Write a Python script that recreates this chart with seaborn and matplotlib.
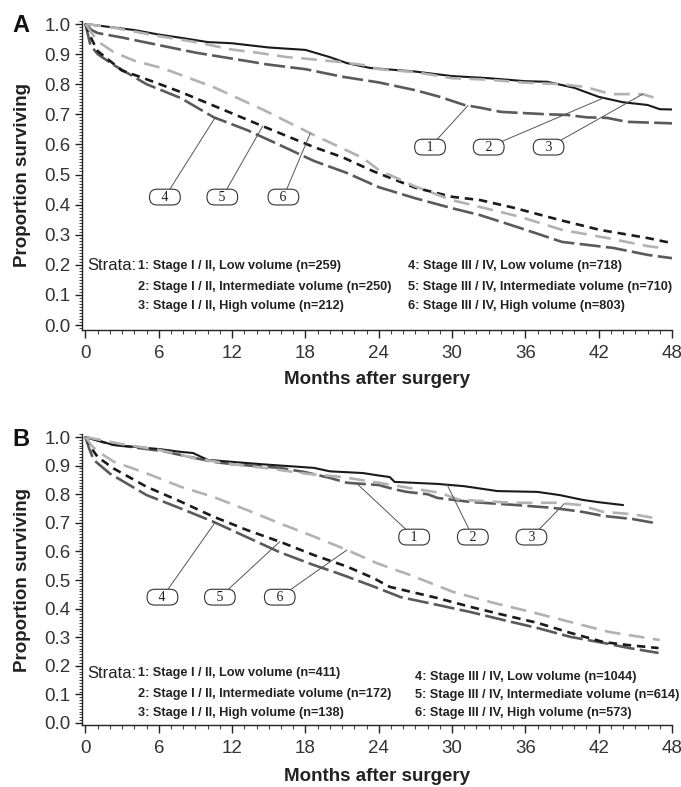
import numpy as np
import pandas as pd
import matplotlib
matplotlib.use("Agg")
import matplotlib.pyplot as plt
import seaborn as sns
from matplotlib.ticker import MultipleLocator, FormatStrFormatter
from matplotlib import font_manager as fm

# ---------------- data ----------------
# Panel A
a_m1 = [0, 0.5, 1, 3, 6, 9, 12, 15, 18, 21, 24, 27, 29, 31, 32.3, 34, 37.8, 39.4, 41, 42.7, 44.3, 48]
a_s1 = [1.0, 0.98, 0.97, 0.955, 0.93, 0.905, 0.885, 0.865, 0.85, 0.825, 0.806, 0.78, 0.758, 0.731, 0.722, 0.708, 0.700, 0.698, 0.69, 0.688, 0.675, 0.670]
a_m2 = [0, 2, 4, 6, 8, 10, 12, 15, 18, 20, 21.4, 23.3, 27, 30, 33, 36, 37.8, 40, 42, 44, 46, 47, 48]
a_s2 = [1.0, 0.99, 0.98, 0.965, 0.953, 0.94, 0.936, 0.922, 0.914, 0.89, 0.87, 0.854, 0.842, 0.827, 0.82, 0.81, 0.808, 0.788, 0.758, 0.74, 0.731, 0.717, 0.716]
a_m3 = [0, 2, 4, 6, 9, 12, 14, 16.5, 18, 20.8, 22.7, 24, 27, 30, 33, 36, 39, 41, 43, 45.6, 47]
a_s3 = [1.0, 0.99, 0.975, 0.96, 0.94, 0.915, 0.905, 0.89, 0.885, 0.874, 0.864, 0.85, 0.84, 0.82, 0.815, 0.805, 0.80, 0.79, 0.767, 0.767, 0.75]
a_m4 = [0, 0.4, 1, 2.3, 5, 7.8, 10.5, 13.2, 15.9, 18.7, 21.4, 24, 27, 30, 32.3, 35.6, 39, 43.2, 46, 48]
a_s4 = [1.0, 0.93, 0.9, 0.864, 0.8, 0.754, 0.69, 0.648, 0.598, 0.545, 0.505, 0.458, 0.421, 0.388, 0.365, 0.322, 0.276, 0.256, 0.233, 0.222]
a_m5 = [0, 0.5, 1, 3, 4.5, 7.8, 11, 14.3, 18.7, 21, 23.6, 27, 30, 32.3, 35, 38.8, 42.1, 46, 48]
a_s5 = [1.0, 0.95, 0.91, 0.845, 0.824, 0.774, 0.72, 0.664, 0.591, 0.558, 0.51, 0.456, 0.426, 0.415, 0.39, 0.349, 0.316, 0.289, 0.272]
a_m6 = [0, 0.5, 1.2, 2.3, 4, 6.4, 10.5, 14.6, 18.7, 22.7, 24, 27, 30, 32.3, 35.6, 39, 42.7, 46, 47]
a_s6 = [1.0, 0.97, 0.937, 0.907, 0.878, 0.852, 0.79, 0.714, 0.631, 0.555, 0.515, 0.46, 0.415, 0.392, 0.359, 0.316, 0.289, 0.262, 0.257]

# Panel B
b_m1 = [0, 2, 6.4, 8, 10.5, 12, 15.9, 18, 20, 21.4, 24, 25.2, 26.3, 28, 28.8, 31.5, 35.3, 38.3, 40.7, 42.4, 44.8, 46.5]
b_s1 = [1.0, 0.975, 0.95, 0.935, 0.913, 0.905, 0.892, 0.877, 0.857, 0.84, 0.832, 0.818, 0.808, 0.80, 0.787, 0.773, 0.762, 0.752, 0.738, 0.724, 0.713, 0.70]
b_m2 = [0, 2.3, 6, 7.8, 8.8, 10, 13.2, 15, 18.7, 20, 22.7, 23.9, 24.9, 25.3, 28.8, 31, 33.7, 37, 38.8, 40.7, 42, 44]
b_s2 = [1.0, 0.972, 0.958, 0.948, 0.944, 0.92, 0.909, 0.903, 0.892, 0.88, 0.874, 0.866, 0.86, 0.843, 0.836, 0.828, 0.811, 0.808, 0.797, 0.78, 0.772, 0.762]
b_m3 = [0, 3, 6, 9, 12, 15, 18, 21, 24, 26.5, 29, 30.5, 32, 35, 38.6, 40.5, 42.4, 44.8, 46.5]
b_s3 = [1.0, 0.975, 0.955, 0.925, 0.905, 0.89, 0.872, 0.86, 0.84, 0.822, 0.805, 0.782, 0.777, 0.77, 0.77, 0.762, 0.738, 0.73, 0.717]
b_m4 = [0, 0.3, 0.67, 2, 5, 7.8, 10.5, 13.2, 15.9, 18.7, 20.3, 21.4, 23.6, 25.8, 28.8, 31.5, 34.2, 37, 39.7, 42.4, 44.5, 46.9]
b_s4 = [1.0, 0.96, 0.92, 0.872, 0.797, 0.75, 0.703, 0.65, 0.597, 0.552, 0.529, 0.512, 0.477, 0.44, 0.413, 0.388, 0.36, 0.332, 0.301, 0.28, 0.262, 0.245]
b_m5 = [0, 0.5, 1, 2.3, 5, 7.8, 10.5, 13.2, 15.9, 18.7, 21.4, 23.6, 24.9, 28.8, 31.5, 34.2, 37, 39.7, 42.4, 44.5, 46.9]
b_s5 = [1.0, 0.96, 0.93, 0.89, 0.826, 0.774, 0.721, 0.675, 0.634, 0.587, 0.547, 0.506, 0.476, 0.437, 0.406, 0.378, 0.35, 0.315, 0.283, 0.272, 0.262]
b_m6 = [0, 0.5, 1, 2.3, 5, 7.8, 10.5, 13.2, 15.9, 18.7, 21.4, 23.9, 26.6, 30.1, 33.4, 36.4, 39.7, 42.9, 46, 47]
b_s6 = [1.0, 0.97, 0.95, 0.914, 0.873, 0.826, 0.79, 0.745, 0.698, 0.652, 0.605, 0.558, 0.517, 0.458, 0.42, 0.389, 0.353, 0.318, 0.297, 0.29]

strata_ids = ["1", "2", "3", "4", "5", "6"]
strata_text_a = ["1: Stage I / II, Low volume (n=259)",
                 "2: Stage I / II, Intermediate volume (n=250)",
                 "3: Stage I / II, High volume (n=212)",
                 "4: Stage III / IV, Low volume (n=718)",
                 "5: Stage III / IV, Intermediate volume (n=710)",
                 "6: Stage III / IV, High volume (n=803)"]
strata_text_b = ["1: Stage I / II, Low volume (n=411)",
                 "2: Stage I / II, Intermediate volume (n=172)",
                 "3: Stage I / II, High volume (n=138)",
                 "4: Stage III / IV, Low volume (n=1044)",
                 "5: Stage III / IV, Intermediate volume (n=614)",
                 "6: Stage III / IV, High volume (n=573)"]
x_ticks = list(range(0, 49, 6))


def long_df(months, survs):
    frames = []
    for sid, m, s in zip(strata_ids, months, survs):
        frames.append(pd.DataFrame({"month": m, "surv": s, "stratum": sid}))
    return pd.concat(frames, ignore_index=True)


df_a = long_df([a_m1, a_m2, a_m3, a_m4, a_m5, a_m6], [a_s1, a_s2, a_s3, a_s4, a_s5, a_s6])
df_b = long_df([b_m1, b_m2, b_m3, b_m4, b_m5, b_m6], [b_s1, b_s2, b_s3, b_s4, b_s5, b_s6])

# ---------------- style ----------------
sns.set_style("ticks")
names = {f.name for f in fm.fontManager.ttflist}
NARROW = "Liberation Sans Narrow" if "Liberation Sans Narrow" in names else "Liberation Sans"
plt.rcParams["font.family"] = ["Liberation Sans", "DejaVu Sans"]

DARK, BLACK, LIGHT = "#5a5a5a", "#1a1a1a", "#b2b2b2"
palette = {"1": DARK, "2": BLACK, "3": LIGHT, "4": DARK, "5": BLACK, "6": LIGHT}
dashes = {"1": (8, 2), "2": "", "3": (6, 3.2), "4": (8, 2), "5": (3.2, 2.2), "6": (6, 3.2)}

W, H = 681, 787
fig = plt.figure(figsize=(W / 100, H / 100), dpi=100)


def add_axes_px(left, right, top, bottom):
    return fig.add_axes([left / W, 1 - bottom / H, (right - left) / W, (bottom - top) / H])


def draw_panel(ax, df, ylim, xlab_y):
    sns.lineplot(data=df, x="month", y="surv", hue="stratum", style="stratum",
                 hue_order=strata_ids, style_order=strata_ids,
                 palette=palette, dashes=dashes, linewidth=1.9,
                 estimator=None, legend=False, ax=ax)
    for ln, sid in zip(ax.lines, strata_ids):
        if sid == "2":
            ln.set_linewidth(1.5)
    ax.set_xlim(-0.3, 48)
    ax.set_ylim(*ylim)
    sns.despine(ax=ax)
    for sp in ("left", "bottom"):
        ax.spines[sp].set_color("#222222")
        ax.spines[sp].set_linewidth(1.0)
    ax.set_xticks(x_ticks)
    ax.xaxis.set_minor_locator(MultipleLocator(1))
    ax.set_yticks(np.round(np.arange(0, 1.01, 0.1), 1))
    ax.yaxis.set_major_formatter(FormatStrFormatter("%.1f"))
    ax.yaxis.set_minor_locator(MultipleLocator(0.01))
    ax.tick_params(axis="both", which="major", direction="out", width=1.0,
                   labelsize=13.5, labelcolor="#333333", color="#222222")
    ax.tick_params(axis="y", which="major", length=5, pad=3)
    ax.tick_params(axis="x", which="major", length=6, pad=5)
    ax.tick_params(axis="y", which="minor", length=2.5, width=0.7, color="#444444")
    ax.tick_params(axis="x", which="minor", length=3, width=0.8, color="#444444")
    ax.set_xlabel("Months after surgery", fontsize=13.5, fontweight="bold", color="#222222")
    ax.set_ylabel("Proportion surviving", fontsize=13.5, fontweight="bold", color="#222222")
    ax.xaxis.set_label_coords(0.5, xlab_y)
    ax.yaxis.set_label_coords(-0.086, 0.5)


def label_boxes(ax, df, boxes, targets):
    for sid, (bx, by), tm in zip(strata_ids, boxes, targets):
        sub = df[df.stratum == sid]
        ty = np.interp(tm, sub.month, sub.surv)
        ax.annotate("   " + sid + "   ", xy=(tm, ty), xytext=(bx, by),
                    ha="center", va="center", fontsize=10, family="Liberation Serif",
                    color="#222222",
                    bbox=dict(boxstyle="round,pad=0.1,rounding_size=0.55", fc="white",
                              ec="#333333", lw=0.8),
                    arrowprops=dict(arrowstyle="-", color="#555555", lw=0.7,
                                    shrinkA=0, shrinkB=0))


def strata_block(texts, left_rows, right_rows, left_x, right_x):
    fig.text(87 / W, 1 - left_rows[0] / H, "Strata:", fontsize=12, family=[NARROW, "DejaVu Sans"],
             ha="left", va="center", color="#222222")
    for t, y in zip(texts[:3], left_rows):
        fig.text(left_x / W, 1 - y / H, t, fontsize=9.2, fontweight="bold",
                 family=[NARROW, "DejaVu Sans"], ha="left", va="center", color="#222222")
    for t, y in zip(texts[3:], right_rows):
        fig.text(right_x / W, 1 - y / H, t, fontsize=9.2, fontweight="bold",
                 family=[NARROW, "DejaVu Sans"], ha="left", va="center", color="#222222")


# Panel A
ax_a = add_axes_px(81.8, 672, 20.7, 330)
draw_panel(ax_a, df_a, (-0.0166, 1.011), -0.133)
label_boxes(ax_a, df_a,
            [(28.2, 0.591), (33.0, 0.591), (37.9, 0.591), (6.5, 0.425), (11.2, 0.425), (16.2, 0.425)],
            [31.3, 42.4, 45.6, 10.6, 14.5, 18.4])
strata_block(strata_text_a, [266, 287, 306], [266, 287, 306], 138, 408)

# Panel B
ax_b = add_axes_px(81.8, 672, 434, 725)
draw_panel(ax_b, df_b, (-0.007, 1.0105), -0.148)
label_boxes(ax_b, df_b,
            [(26.9, 0.65), (31.7, 0.65), (36.5, 0.65), (6.3, 0.44), (11.0, 0.44), (15.9, 0.44)],
            [22.2, 29.6, 39.2, 10.6, 15.9, 21.4])
strata_block(strata_text_b, [673, 694, 713], [677, 695, 713], 138, 415)

fig.text(21 / W, 1 - 25 / H, "A", fontsize=17, fontweight="bold", ha="center", va="center", color="#111111")
fig.text(21 / W, 1 - 440 / H, "B", fontsize=17, fontweight="bold", ha="center", va="center", color="#111111")

fig.savefig("out.png", dpi=100)
